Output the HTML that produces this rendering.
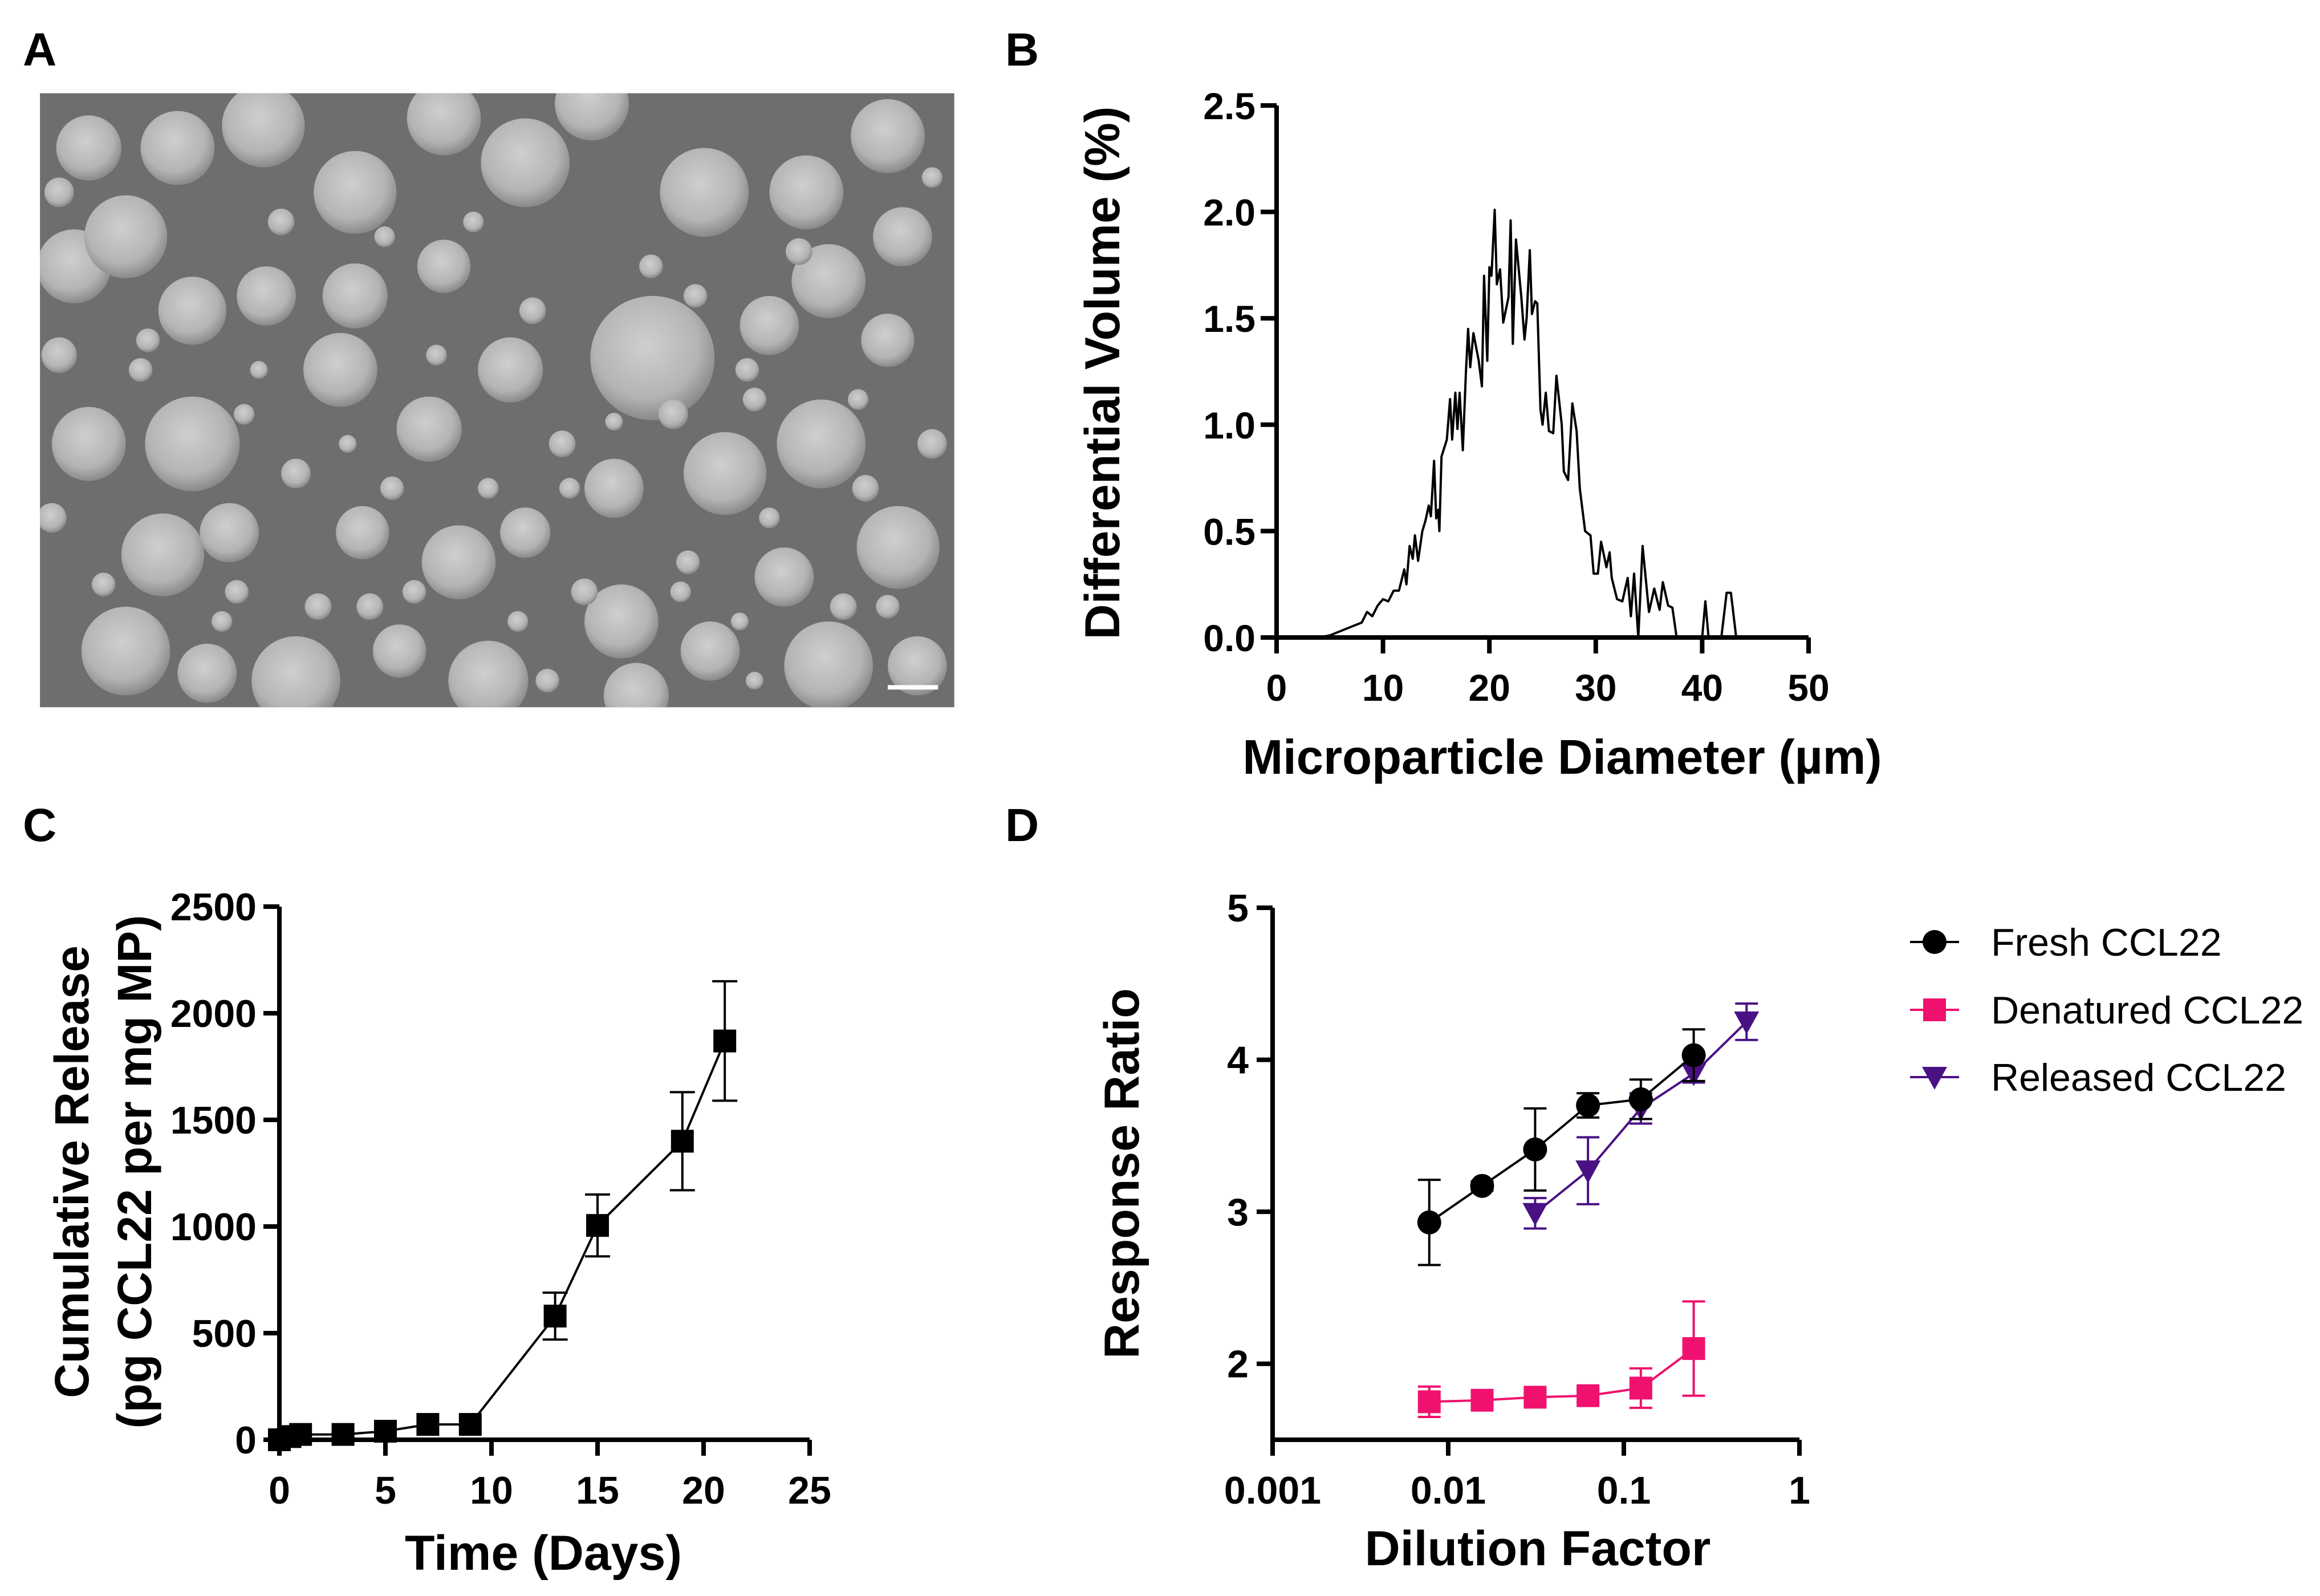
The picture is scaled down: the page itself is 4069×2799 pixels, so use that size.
<!DOCTYPE html>
<html><head><meta charset="utf-8"><style>
html,body{margin:0;padding:0;background:#fff}
svg{display:block}
text{font-family:"Liberation Sans",Arial,sans-serif}
</style></head><body>
<svg id="fig" width="4069" height="2799" viewBox="0 0 4069 2799" xmlns="http://www.w3.org/2000/svg">
<defs>
<radialGradient id="sph" cx="0.45" cy="0.4" r="0.6">
<stop offset="0" stop-color="#cfcfcf"/><stop offset="0.7" stop-color="#b4b4b4"/><stop offset="1" stop-color="#8a8a8a"/>
</radialGradient>
<clipPath id="clipA"><rect x="27" y="63" width="618" height="415"/></clipPath>
</defs>
<text x="40" y="115" font-size="82" font-weight="bold">A</text>
<text x="1763" y="115" font-size="82" font-weight="bold">B</text>
<text x="40" y="1475" font-size="82" font-weight="bold">C</text>
<text x="1763" y="1475" font-size="82" font-weight="bold">D</text>
<g id="panelA" transform="scale(2.595)" clip-path="url(#clipA)">
<rect x="27" y="63" width="618" height="415" fill="#6e6e6e"/>
</g>
<g id="panelB"></g>
<g id="panelC"></g>
<g id="panelD"></g>
</svg>
<script>
const NS='http://www.w3.org/2000/svg';
function mk(parent,tag,attrs,txt){const e=document.createElementNS(NS,tag);for(const k in attrs)e.setAttribute(k,attrs[k]);if(txt!==undefined)e.textContent=txt;parent.appendChild(e);return e;}

// ---------- Panel A: SEM spheres (display coords) ----------
const sphereCX=[441,355,240,178,476,545,600,130,110,85,200,330,555,607,490,415,310,420,230,290,345,60,50,85,130,180,240,300,520,560,600,610,155,245,355,530,270,480,560,620,400,300,120,60,430,140,40,200,265,380,455,510,585,35,95,165,215,280,330,395,465,520,570,630,70,150,250,370,460,510,600,190,320,440,540,630,40,100,260,360,470,580,235,385,505,175,295,415,160,350,500];
const sphereCY=[242,110,130,85,130,130,92,300,375,440,460,460,300,370,320,330,380,420,250,290,250,300,180,160,210,200,200,180,220,190,230,160,360,360,360,390,440,440,450,450,70,80,100,100,470,455,240,320,330,300,280,270,330,350,250,280,410,400,330,400,380,350,410,300,395,420,410,460,400,460,410,150,150,180,170,120,130,230,160,210,200,270,300,330,250,250,240,285,400,420,420];
const sphereR=[42,30,28,28,30,25,25,32,28,30,30,27,30,28,28,20,25,25,25,22,22,25,25,28,23,20,22,18,20,25,18,20,20,18,17,20,18,20,30,20,25,25,25,22,22,20,12,10,8,9,10,8,9,10,8,7,9,8,7,9,8,7,9,10,8,7,9,8,7,6,8,9,7,8,9,7,10,8,7,9,8,7,6,7,8,6,7,6,8,7,6];
const gA=document.getElementById('panelA');
for(let i=0;i<sphereCX.length;i++){
  const c=mk(gA,'circle',{cx:sphereCX[i],cy:sphereCY[i],r:sphereR[i],fill:'url(#sph)'});
  
  
}
const sb=mk(gA,'rect',{x:600,y:463,width:34,height:3,fill:'#fff'});



// ---------- Panel B ----------
const bX=[4,5,6,7,8,8.5,9,9.5,10,10.5,11,11.5,12,12.2,12.5,12.8,13,13.3,13.7,14,14.3,14.5,14.8,15,15.2,15.3,15.5,16,16.3,16.5,16.8,17,17.2,17.5,17.8,18,18.2,18.5,19,19.3,19.5,19.8,20,20.2,20.5,20.7,21,21.3,21.8,22,22.2,22.5,23,23.3,23.5,23.8,24,24.3,24.5,24.8,25,25.3,25.6,26,26.3,26.8,27,27.4,27.8,28.2,28.5,29,29.5,29.8,30.2,30.5,31,31.3,31.5,32,32.5,33,33.3,33.6,34,34.4,35,35.5,36,36.3,36.8,37.2,37.6,40,40.3,40.6,41.8,42.3,42.7,43.2];
const bY=[0,0.01,0.03,0.05,0.07,0.12,0.1,0.15,0.18,0.17,0.22,0.22,0.32,0.25,0.43,0.37,0.48,0.36,0.5,0.55,0.62,0.57,0.83,0.56,0.6,0.5,0.85,0.93,1.12,0.93,1.15,0.98,1.15,0.88,1.25,1.45,1.27,1.43,1.3,1.18,1.7,1.3,1.74,1.7,2.01,1.66,1.73,1.48,1.6,1.96,1.38,1.87,1.6,1.4,1.5,1.82,1.52,1.58,1.57,1.07,1.0,1.15,0.97,0.96,1.23,1.0,0.78,0.74,1.1,0.97,0.7,0.5,0.48,0.3,0.3,0.45,0.33,0.4,0.28,0.18,0.17,0.28,0.1,0.3,0,0.43,0.12,0.23,0.13,0.26,0.15,0.14,0,0,0.17,0,0,0.21,0.21,0];
const bXTicks=[0,10,20,30,40,50];
const bYTicks=[0,0.5,1.0,1.5,2.0,2.5];
const bXLabels=['0','10','20','30','40','50'];
const bYLabels=['0.0','0.5','1.0','1.5','2.0','2.5'];

// ---------- Panel C ----------
const cDays=[0,0.5,1,3,5,7,9,13,15,19,21];
const cVals=[0,15,25,25,40,72,72,580,1005,1400,1870];
const cErr=[0,0,0,0,0,0,0,110,145,230,280];
const cXTicks=[0,5,10,15,20,25];
const cYTicks=[0,500,1000,1500,2000,2500];

// ---------- Panel D ----------
const dFreshX=[0.0078,0.0156,0.03125,0.0625,0.125,0.25];
const dFreshY=[2.93,3.17,3.41,3.70,3.74,4.03];
const dFreshE=[0.28,0.03,0.27,0.08,0.13,0.17];
const dDenX=[0.0078,0.0156,0.03125,0.0625,0.125,0.25];
const dDenY=[1.75,1.76,1.78,1.79,1.84,2.10];
const dDenE=[0.10,0.05,0.03,0.04,0.13,0.31];
const dRelX=[0.03125,0.0625,0.125,0.25,0.5];
const dRelY=[2.99,3.27,3.68,3.91,4.25];
const dRelE=[0.10,0.22,0.10,0.06,0.12];
const dYTicks=[2,3,4,5];
const dXTicks=[0.001,0.01,0.1,1];
const dXLabels=['0.001','0.01','0.1','1'];
const dSeriesNames=['Fresh CCL22','Denatured CCL22','Released CCL22'];

const AXW=8;
const TFS=68;
function axes(g,x0,y0,x1,y1){
  const a=mk(g,'line',{x1:x0,y1:y0+AXW/2,x2:x0,y2:y1,stroke:'#000','stroke-width':AXW});
  
  const b=mk(g,'line',{x1:x0-AXW/2,y1:y0,x2:x1,y2:y0,stroke:'#000','stroke-width':AXW});
  
}

// Panel B draw
(function(){
  const g=document.getElementById('panelB');
  const X0=2239,X1=3172,Y0=1118,Y1=185;
  const sx=v=>X0+(v-0)/(50-0)*(X1-X0);
  const sy=v=>Y0-(v-0)/(2.5-0)*(Y0-Y1);
  axes(g,X0,Y0,X1,Y1);
  bYTicks.forEach((t,i)=>{
    const y=sy(t);
    const tk=mk(g,'line',{x1:X0-28,y1:y,x2:X0,y2:y,stroke:'#000','stroke-width':AXW});
    
    const l=mk(g,'text',{x:2202,y:y+24,'font-size':66,'font-weight':'bold','text-anchor':'end'},bYLabels[i]);
    
  });
  bXTicks.forEach((t,i)=>{
    const x=sx(t);
    const tk=mk(g,'line',{x1:x,y1:Y0,x2:x,y2:Y0+28,stroke:'#000','stroke-width':AXW});
    
    const l=mk(g,'text',{x:x,y:1229,'font-size':66,'font-weight':'bold','text-anchor':'middle'},bXLabels[i]);
    
  });
  let d='';
  bX.forEach((v,i)=>{d+=(i?'L':'M')+sx(v).toFixed(1)+','+sy(bY[i]).toFixed(1);});
  const p=mk(g,'path',{d:d,fill:'none',stroke:'#000','stroke-width':4,'stroke-linejoin':'round'});
  
  const xt=mk(g,'text',{x:2740,y:1357,'font-size':85,'font-weight':'bold','text-anchor':'middle'},'Microparticle Diameter (µm)');
  
  const yt=mk(g,'text',{x:0,y:0,'font-size':86,'font-weight':'bold','text-anchor':'middle',transform:'translate(1963,654) rotate(-90)'},'Differential Volume (%)');
  
})();

// Panel C draw
(function(){
  const g=document.getElementById('panelC');
  const X0=490,X1=1420,Y0=2525,Y1=1590;
  const sx=v=>X0+v/25*(X1-X0);
  const sy=v=>Y0-v/2500*(Y0-Y1);
  axes(g,X0,Y0,X1,Y1);
  cYTicks.forEach(t=>{
    const y=sy(t);
    const tk=mk(g,'line',{x1:X0-28,y1:y,x2:X0,y2:y,stroke:'#000','stroke-width':AXW});
    
    const l=mk(g,'text',{x:450,y:y+24,'font-size':TFS,'font-weight':'bold','text-anchor':'end'},String(t));
    
  });
  cXTicks.forEach(t=>{
    const x=sx(t);
    const tk=mk(g,'line',{x1:x,y1:Y0,x2:x,y2:Y0+28,stroke:'#000','stroke-width':AXW});
    
    const l=mk(g,'text',{x:x,y:2637,'font-size':TFS,'font-weight':'bold','text-anchor':'middle'},String(t));
    
  });
  let d='';
  cDays.forEach((v,i)=>{d+=(i?'L':'M')+sx(v).toFixed(1)+','+sy(cVals[i]).toFixed(1);});
  const p=mk(g,'path',{d:d,fill:'none',stroke:'#000','stroke-width':4});
  
  cDays.forEach((v,i)=>{
    const x=sx(v),y=sy(cVals[i]);
    if(cErr[i]>0){
      const e=mk(g,'path',{d:`M${x},${sy(cVals[i]+cErr[i])}V${sy(cVals[i]-cErr[i])}M${x-22},${sy(cVals[i]+cErr[i])}h44M${x-22},${sy(cVals[i]-cErr[i])}h44`,stroke:'#000','stroke-width':4,fill:'none'});
      
    }
    const m=mk(g,'rect',{x:x-20,y:y-20,width:40,height:40,fill:'#000'});
    
  });
  const xt=mk(g,'text',{x:953,y:2753,'font-size':86,'font-weight':'bold','text-anchor':'middle'},'Time (Days)');
  
  const yt1=mk(g,'text',{x:0,y:0,'font-size':84,'font-weight':'bold','text-anchor':'middle',transform:'translate(155,2055) rotate(-90)'},'Cumulative Release');
  
  const yt2=mk(g,'text',{x:0,y:0,'font-size':84,'font-weight':'bold','text-anchor':'middle',transform:'translate(265,2055) rotate(-90)'},'(pg CCL22 per mg MP)');
  
})();

// Panel D draw
(function(){
  const g=document.getElementById('panelD');
  const X0=2232,X1=3156,Y0=2525,Y1=1592;
  const sx=v=>X0+(Math.log10(v)+3)/3*(X1-X0);
  const sy=v=>Y0-(v-1.5)/3.5*(Y0-Y1);
  axes(g,X0,Y0,X1,Y1);
  dYTicks.forEach(t=>{
    const y=sy(t);
    const tk=mk(g,'line',{x1:X0-28,y1:y,x2:X0,y2:y,stroke:'#000','stroke-width':AXW});
    
    const l=mk(g,'text',{x:2190,y:y+24,'font-size':TFS,'font-weight':'bold','text-anchor':'end'},String(t));
    
  });
  dXTicks.forEach((t,i)=>{
    const x=sx(t);
    const tk=mk(g,'line',{x1:x,y1:Y0,x2:x,y2:Y0+28,stroke:'#000','stroke-width':AXW});
    
    const l=mk(g,'text',{x:x,y:2637,'font-size':TFS,'font-weight':'bold','text-anchor':'middle'},dXLabels[i]);
    
  });
  function marker(gg,shape,x,y,col){
    let m;
    if(shape==='circle') m=mk(gg,'circle',{cx:x,cy:y,r:21,fill:col});
    else if(shape==='square') m=mk(gg,'rect',{x:x-20,y:y-20,width:40,height:40,fill:col});
    else m=mk(gg,'path',{d:`M${x-22},${y-18}L${x+22},${y-18}L${x},${y+22}Z`,fill:col});
    return m;
  }
  function series(xs,ys,es,col,shape,name){
    const sg=mk(g,'g',{});
    
    
    let d='';
    xs.forEach((v,i)=>{d+=(i?'L':'M')+sx(v).toFixed(1)+','+sy(ys[i]).toFixed(1);});
    const p=mk(sg,'path',{d:d,fill:'none',stroke:col,'stroke-width':4});
    
    xs.forEach((v,i)=>{
      const x=sx(v),yt=sy(ys[i]+es[i]),yb=sy(ys[i]-es[i]);
      const e=mk(sg,'path',{d:`M${x},${yt}V${yb}M${x-20},${yt}h40M${x-20},${yb}h40`,stroke:col,'stroke-width':4,fill:'none'});
      
      const m=marker(sg,shape,x,sy(ys[i]),col);
      
    });
  }
  series(dDenX,dDenY,dDenE,'#f0116e','square','denatured-series');
  series(dRelX,dRelY,dRelE,'#4a1185','triangle','released-series');
  series(dFreshX,dFreshY,dFreshE,'#000','circle','fresh-series');
  const legCols=['#000','#f0116e','#4a1185'];
  const legShapes=['circle','square','triangle'];
  const legY=[1652,1771,1889];
  dSeriesNames.forEach((n,i)=>{
    const lg=mk(g,'g',{});
    
    
    mk(lg,'line',{x1:3350,y1:legY[i],x2:3436,y2:legY[i],stroke:legCols[i],'stroke-width':4});
    marker(lg,legShapes[i],3393,legY[i],legCols[i]);
    mk(lg,'text',{x:3492,y:legY[i]+24,'font-size':68,fill:'#000'},n);
  });
  const xt=mk(g,'text',{x:2697,y:2745,'font-size':86,'font-weight':'bold','text-anchor':'middle'},'Dilution Factor');
  
  const yt=mk(g,'text',{x:0,y:0,'font-size':86,'font-weight':'bold','text-anchor':'middle',transform:'translate(1997,2058) rotate(-90)'},'Response Ratio');
  
})();
</script>
</body></html>
